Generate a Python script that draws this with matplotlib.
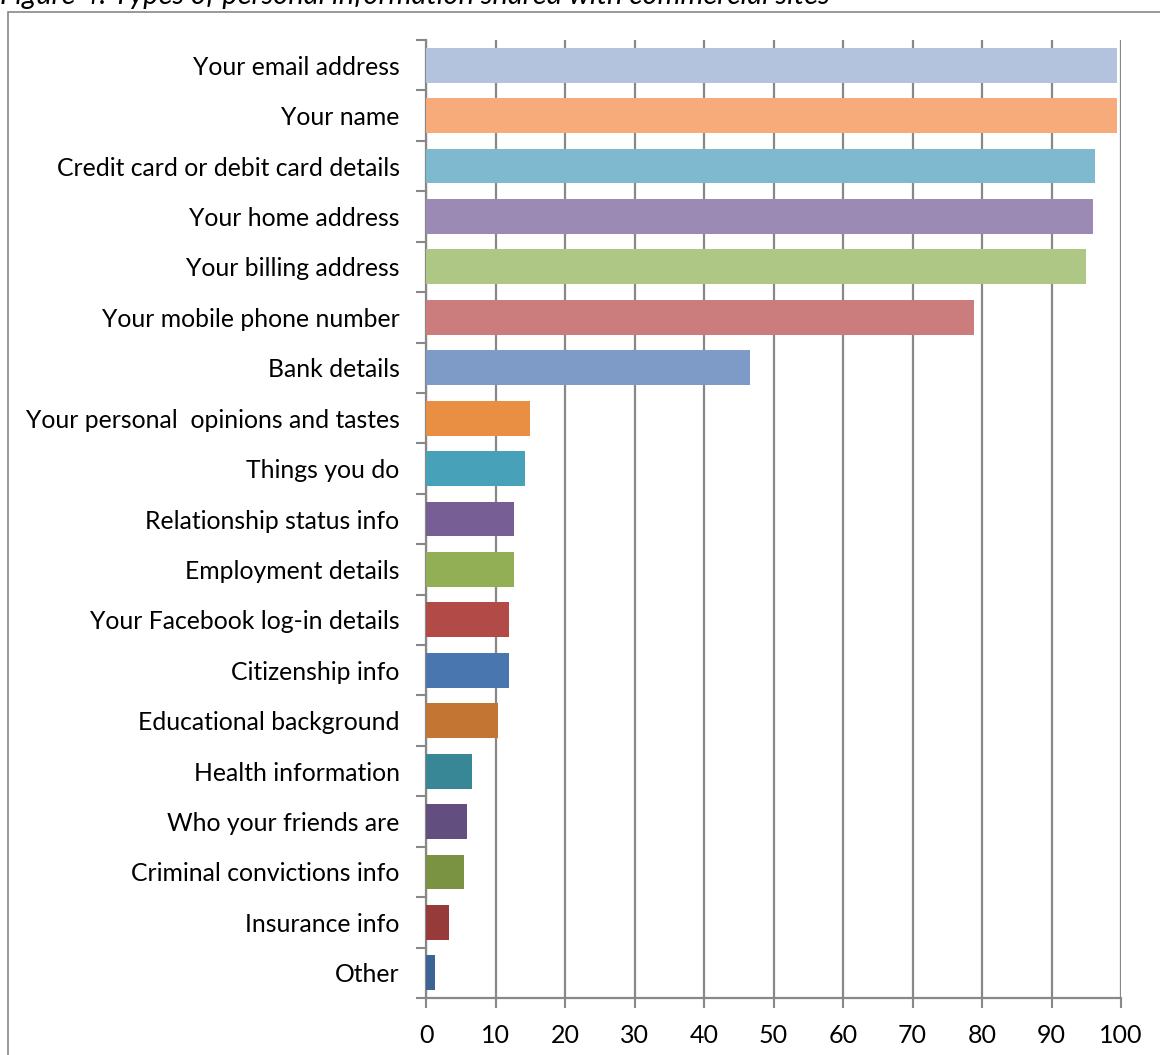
import matplotlib.pyplot as plt
from matplotlib.patches import Rectangle
from matplotlib.ticker import FixedLocator

categories = [
    "Your email address", "Your name", "Credit card or debit card details",
    "Your home address", "Your billing address", "Your mobile phone number",
    "Bank details", "Your personal  opinions and tastes", "Things you do",
    "Relationship status info", "Employment details", "Your Facebook log-in details",
    "Citizenship info", "Educational background", "Health information",
    "Who your friends are", "Criminal convictions info", "Insurance info", "Other",
]
values = [99.4, 99.4, 96.3, 95.9, 94.9, 78.9, 46.6, 14.9, 14.3, 12.7, 12.6,
          12.0, 12.0, 10.4, 6.6, 5.9, 5.4, 3.3, 1.3]
colors = ["#B4C3DD", "#F8AB7A", "#7EB9CF", "#9B8AB3", "#AEC785", "#CA7D7C",
          "#7E9BC8", "#E98F43", "#47A1B9", "#775E94", "#93AF55", "#B24A48",
          "#4A76AF", "#C37533", "#388796", "#634F7F", "#7A9343", "#963B3A",
          "#3C6393"]
xticks = list(range(0, 101, 10))

plt.rcParams["font.family"] = ["Lato", "DejaVu Sans"]

W, H = 1160, 1055
fig = plt.figure(figsize=(W / 100, H / 100), dpi=100)
ax = fig.add_axes([426 / W, 57 / H, (1121 - 426) / W, (998 - 40) / H])

ypos = list(range(len(categories)))
ax.barh(ypos, values, height=0.69, color=colors, zorder=3)

ax.set_xlim(0, 100)
ax.set_ylim(len(categories) - 0.5, -0.5)
ax.xaxis.set_major_locator(FixedLocator(xticks))
ax.set_yticks(ypos)
ax.set_yticklabels(categories, fontsize=17.8)
ax.yaxis.set_minor_locator(FixedLocator([i - 0.5 for i in range(len(categories) + 1)]))
ax.tick_params(axis="y", which="major", length=0, pad=19)
ax.tick_params(axis="y", which="minor", length=7, width=1.5, color="#888888")
ax.tick_params(axis="x", length=7, width=1.5, color="#888888", labelsize=18, pad=12)

ax.grid(axis="x", color="#888888", linewidth=1.6, zorder=0)
for side in ["top", "right"]:
    ax.spines[side].set_visible(False)
for side in ["left", "bottom"]:
    ax.spines[side].set_color("#888888")
    ax.spines[side].set_linewidth(1.6)

# outer frame of the chart
fig.patches.append(Rectangle((8 / W, -0.01), 1.1, (H - 12) / H + 0.01, fill=False,
                             edgecolor="#888888", linewidth=1.2,
                             transform=fig.transFigure))

fig.text(0.0, 1 - 4 / H, "Figure 4: Types of personal information shared with commercial sites",
         fontsize=21, style="italic", va="baseline", ha="left")

fig.savefig("out.png", dpi=100)
